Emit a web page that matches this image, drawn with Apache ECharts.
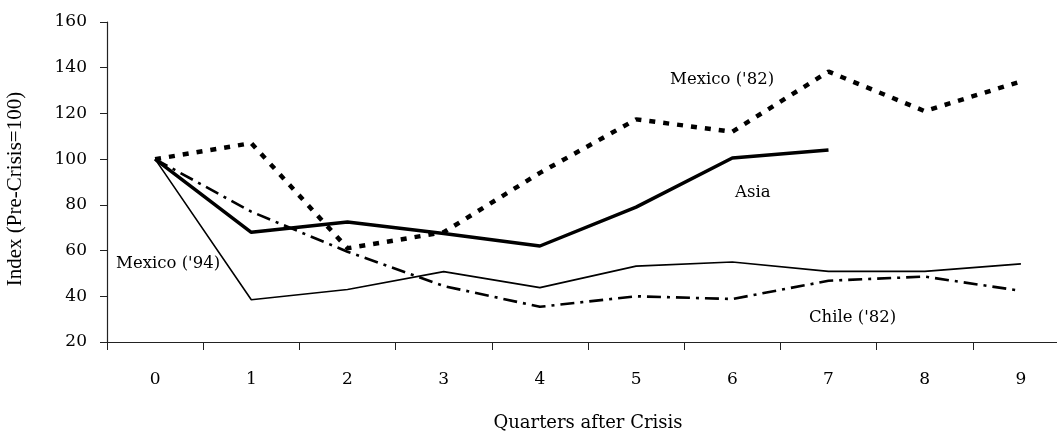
<!DOCTYPE html>
<html><head><meta charset="utf-8">
<script src="https://cdn.jsdelivr.net/npm/echarts@6/dist/echarts.min.js"></script>
<style>html,body{margin:0;padding:0;background:#fff}#c{width:1057px;height:433px}</style>
</head><body><div id="c"></div>
<script>
const quarters = ['0','1','2','3','4','5','6','7','8','9'];
const mexico94 = [100, 38.5, 43, 50.8, 43.8, 53.2, 55, 50.9, 50.9, 54.2];
const asia = [100, 68, 72.5, 67.5, 62, 79, 100.5, 104];
const mexico82 = [100, 107, 61, 68, 94, 117.4, 112, 138.3, 121, 134];
const chile82 = [100, 77, 59.5, 44.5, 35.4, 40, 38.8, 46.8, 48.6, 42.4];
const yTitle = 'Index (Pre-Crisis=100)';
const xTitle = 'Quarters after Crisis';

const font = 'DejaVu Serif';
const chart = echarts.init(document.getElementById('c'));
const txt = (x, y, s) => ({type:'text', left:x, top:y, style:{text:s, font:'16.5px "DejaVu Serif"', fill:'#000'}});
chart.setOption({
  animation:false,
  grid:{left:107, top:22, width:962, height:320, containLabel:false, outerBoundsMode:'none'},
  xAxis:{type:'category', data:quarters, boundaryGap:true,
    axisLine:{lineStyle:{color:'#222', width:1.2}},
    axisTick:{show:true, length:8, lineStyle:{color:'#222'}},
    axisLabel:{margin:29, fontFamily:font, fontSize:17, color:'#000'},
    name:xTitle, nameLocation:'middle', nameGap:72,
    nameTextStyle:{fontFamily:font, fontSize:18, color:'#000'}},
  yAxis:{type:'value', min:20, max:160, interval:20,
    splitLine:{show:false},
    axisLine:{show:true, lineStyle:{color:'#222', width:1.2}},
    axisTick:{show:true, length:7, lineStyle:{color:'#222'}},
    axisLabel:{margin:20, fontFamily:font, fontSize:17, color:'#000'}},
  series:[
    {name:"Mexico ('94)", type:'line', data:mexico94, symbol:'none',
      lineStyle:{color:'#000', width:1.6}},
    {name:'Asia', type:'line', data:asia, symbol:'none',
      lineStyle:{color:'#000', width:3.5}},
    {name:"Chile ('82)", type:'line', data:chile82, symbol:'none',
      lineStyle:{color:'#000', width:2.6, type:[14,6,3,6]}},
    {name:"Mexico ('82)", type:'line', data:mexico82, symbol:'none',
      lineStyle:{color:'#000', width:4.5, type:[6,8]}}
  ],
  graphic:[
    {type:'text', x:15, y:189, rotation:Math.PI/2,
      style:{text:yTitle, font:'21px "Liberation Serif"', fill:'#000', align:'center', verticalAlign:'middle'}},
    txt(670, 71, "Mexico ('82)"),
    txt(735, 184, 'Asia'),
    txt(116, 255, "Mexico ('94)"),
    txt(809, 309, "Chile ('82)")
  ]
});
</script></body></html>
